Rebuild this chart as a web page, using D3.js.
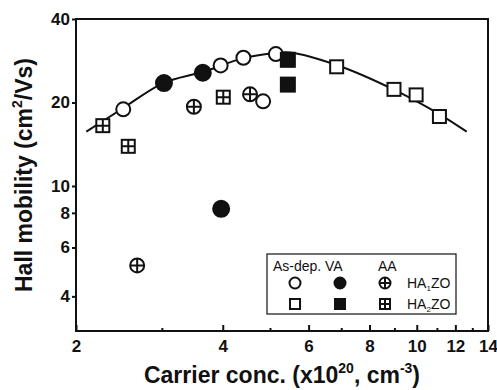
<!DOCTYPE html>
<html>
<head>
<meta charset="utf-8">
<script src="https://cdn.jsdelivr.net/npm/d3@7"></script>
<style>
  body { margin: 0; background: #fff; }
</style>
</head>
<body>
<svg id="chart" width="497" height="390"></svg>
<script>
// carrier conc. (x10^20 cm^-3), Hall mobility (cm2/Vs)
const asDepHA1 = [[2.50, 18.9], [3.96, 27.2], [4.41, 29.0], [5.14, 29.9], [4.84, 20.2]];
const vaHA1 = [[3.03, 23.5], [3.64, 25.6], [3.97, 8.27]];
const aaHA1 = [[3.49, 19.3], [4.55, 21.4], [2.67, 5.17]];
const asDepHA2 = [[6.85, 26.9], [8.98, 22.3], [9.97, 21.3], [11.13, 17.8]];
const vaHA2 = [[5.44, 28.5], [5.44, 23.2]];
const aaHA2 = [[4.01, 20.9], [2.27, 16.5], [2.56, 13.9]];

// fitted trend line
const fitCurve = [[2.10, 15.7], [2.50, 19.1], [3.02, 23.5], [3.65, 25.8], [4.41, 28.9],
  [5.08, 30.1], [5.50, 30.3], [6.85, 27.3], [8.95, 22.3], [11.16, 18.1], [12.66, 15.7]];

const xTicks = [2, 4, 6, 8, 10, 12, 14];
const xMinorTicks = [3, 5, 7, 9, 11, 13];
const yTicks = [4, 6, 8, 10, 20, 40];

const width = 497, height = 390;
const margin = { top: 19, right: 9, bottom: 59, left: 76 };
const FONT = "'Liberation Sans', Arial, Helvetica, sans-serif";
const ink = "#111";

const svg = d3.select("#chart").attr("font-family", FONT);

const x = d3.scaleLog().domain([2, 14]).range([margin.left, width - margin.right]);
const y = d3.scaleLog().domain([3, 40]).range([height - margin.bottom, margin.top]);

// x axis: ticks pointing inward
svg.append("g")
    .attr("transform", `translate(0,${height - margin.bottom})`)
    .call(d3.axisBottom(x).tickValues(xMinorTicks).tickSize(-3).tickFormat(""))
    .call(g => g.select(".domain").remove())
    .selectAll("line").attr("stroke", ink).attr("stroke-width", 2);

svg.append("g")
    .attr("transform", `translate(0,${height - margin.bottom})`)
    .call(d3.axisBottom(x).tickValues(xTicks).tickSize(-6).tickPadding(9).tickFormat(d3.format("d")))
    .attr("font-family", FONT)
    .call(g => g.select(".domain").remove())
    .call(g => g.selectAll("line").attr("stroke", ink).attr("stroke-width", 2))
    .selectAll("text")
    .style("font-size", "17px")
    .style("font-weight", "bold")
    .attr("fill", ink);

// y axis: short outward ticks
svg.append("g")
    .attr("transform", `translate(${margin.left},0)`)
    .call(d3.axisLeft(y).tickValues(yTicks).tickSize(4).tickPadding(2).tickFormat(d3.format("d")))
    .attr("font-family", FONT)
    .call(g => g.select(".domain").remove())
    .call(g => g.selectAll("line").attr("stroke", ink).attr("stroke-width", 2))
    .selectAll("text")
    .style("font-size", "17px")
    .style("font-weight", "bold")
    .attr("fill", ink);

// frame
svg.append("rect")
    .attr("x", margin.left)
    .attr("y", margin.top)
    .attr("width", width - margin.left - margin.right)
    .attr("height", height - margin.top - margin.bottom)
    .attr("fill", "none")
    .attr("stroke", ink)
    .attr("stroke-width", 2);

// axis titles
const xTitle = svg.append("text")
    .attr("x", (margin.left + width - margin.right) / 2)
    .attr("y", 383)
    .attr("text-anchor", "middle")
    .style("font-size", "23px")
    .style("font-weight", "bold")
    .attr("fill", ink);
xTitle.append("tspan").text("Carrier conc. (x10");
xTitle.append("tspan").attr("dy", -10).style("font-size", "14px").text("20");
xTitle.append("tspan").attr("dy", 10).text(", cm");
xTitle.append("tspan").attr("dy", -10).style("font-size", "14px").text("-3");
xTitle.append("tspan").attr("dy", 10).text(")");

const yTitle = svg.append("text")
    .attr("transform", `translate(32,${(margin.top + height - margin.bottom) / 2}) rotate(-90)`)
    .attr("text-anchor", "middle")
    .style("font-size", "23px")
    .style("font-weight", "bold")
    .attr("fill", ink);
yTitle.append("tspan").text("Hall mobility (cm");
yTitle.append("tspan").attr("dy", -10).style("font-size", "14px").text("2");
yTitle.append("tspan").attr("dy", 10).text("/Vs)");

// fit line
svg.append("path")
    .datum(fitCurve)
    .attr("fill", "none")
    .attr("stroke", ink)
    .attr("stroke-width", 2)
    .attr("d", d3.line().x(d => x(d[0])).y(d => y(d[1])).curve(d3.curveCatmullRom));

// marker drawing helper
function drawMarker(g, shape, fill, cross, r) {
    if (shape === "circle") {
        g.append("circle").attr("r", r)
            .attr("fill", fill ? ink : "#fff")
            .attr("stroke", ink).attr("stroke-width", 2);
    } else {
        g.append("rect").attr("x", -r).attr("y", -r)
            .attr("width", 2 * r).attr("height", 2 * r)
            .attr("fill", fill ? ink : "#fff")
            .attr("stroke", ink).attr("stroke-width", 2);
    }
    if (cross) {
        g.append("path")
            .attr("d", `M${-r},0H${r}M0,${-r}V${r}`)
            .attr("stroke", ink).attr("stroke-width", 2);
    }
}

const seriesList = [
    { data: asDepHA1, shape: "circle", fill: false, cross: false },
    { data: vaHA1, shape: "circle", fill: true, cross: false },
    { data: aaHA1, shape: "circle", fill: false, cross: true },
    { data: asDepHA2, shape: "square", fill: false, cross: false },
    { data: vaHA2, shape: "square", fill: true, cross: false },
    { data: aaHA2, shape: "square", fill: false, cross: true }
];

seriesList.forEach(s => {
    const r = s.shape === "circle" ? (s.fill ? 8 : 7) : (s.fill ? 7 : 6.5);
    svg.append("g")
        .selectAll("g")
        .data(s.data)
        .join("g")
        .attr("transform", d => `translate(${x(d[0])},${y(d[1])})`)
        .each(function () { drawMarker(d3.select(this), s.shape, s.fill, s.cross, r); });
});

// legend
const legend = svg.append("g").attr("transform", "translate(267,254)");
legend.append("rect")
    .attr("width", 189).attr("height", 60)
    .attr("fill", "#fff").attr("stroke", ink).attr("stroke-width", 1.2);

const legendCols = ["As-dep.", "VA", "AA"];
const colHeaderX = [6, 58, 111];
const colMarkX = [28, 73, 118];
legend.selectAll(".hdr")
    .data(legendCols)
    .join("text")
    .attr("x", (d, i) => colHeaderX[i])
    .attr("y", 17)
    .style("font-size", "14px")
    .attr("fill", ink)
    .text(d => d);

const legendRows = ["HA1ZO", "HA2ZO"];
const rowY = [29, 50];
legendRows.forEach((name, ri) => {
    const shape = ri === 0 ? "circle" : "square";
    [[false, false], [true, false], [false, true]].forEach(([fill, cross], ci) => {
        const g = legend.append("g").attr("transform", `translate(${colMarkX[ci]},${rowY[ri]})`);
        drawMarker(g, shape, fill, cross, ri === 0 ? 5.5 : 5);
    });
    const t = legend.append("text")
        .attr("x", 140).attr("y", rowY[ri] + 5)
        .style("font-size", "14px")
        .attr("fill", ink);
    t.append("tspan").text("HA");
    t.append("tspan").attr("dy", 3).style("font-size", "8px").text(name.charAt(2));
    t.append("tspan").attr("dy", -3).text("ZO");
});
</script>
</body>
</html>
